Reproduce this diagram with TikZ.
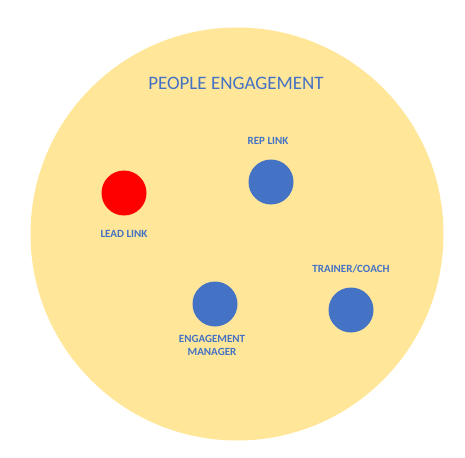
\documentclass[tikz,border=0pt]{standalone}
\usepackage{fontspec}
\setmainfont{Carlito}
\usepackage{tikz}
\usetikzlibrary{positioning,shapes}
\definecolor{gold}{HTML}{FFE699}
\definecolor{office blue}{HTML}{4472C4}
\definecolor{alarm red}{HTML}{FF0000}
\tikzstyle{role blue}=[inner sep=0pt, circle, minimum size=45pt, fill=office blue]
\tikzstyle{role red}=[inner sep=0pt, circle, minimum size=45pt, fill=alarm red]
\tikzstyle{tag}=[inner sep=0pt, text=office blue, font=\fontsize{11}{12.5}\selectfont\bfseries, align=center]
\begin{document}
\begin{tikzpicture}[x=1pt,y=-1pt]
    \useasboundingbox (0,0) rectangle (465,457);

    % Circle
    \draw[fill=gold,draw=none] (237,234) circle (206.5);
    \draw (236,83) node[inner sep=0pt, text=office blue, font=\fontsize{19}{22}\selectfont] (title) {PEOPLE ENGAGEMENT};

    % Roles
    \draw (124,193) node[role red] (lead) {};
    \draw (271,182) node[role blue] (rep) {};
    \draw (215,304) node[role blue] (mgr) {};
    \draw (351,310) node[role blue] (coach) {};

    % Labels
    \draw (124,234) node[tag] (lead label) {LEAD LINK};
    \draw (268,141) node[tag] (rep label) {REP LINK};
    \draw (212,345.5) node[tag] (mgr label) {ENGAGEMENT\\MANAGER};
    \draw (351,269) node[tag] (coach label) {TRAINER/COACH};

\end{tikzpicture}
\end{document}
